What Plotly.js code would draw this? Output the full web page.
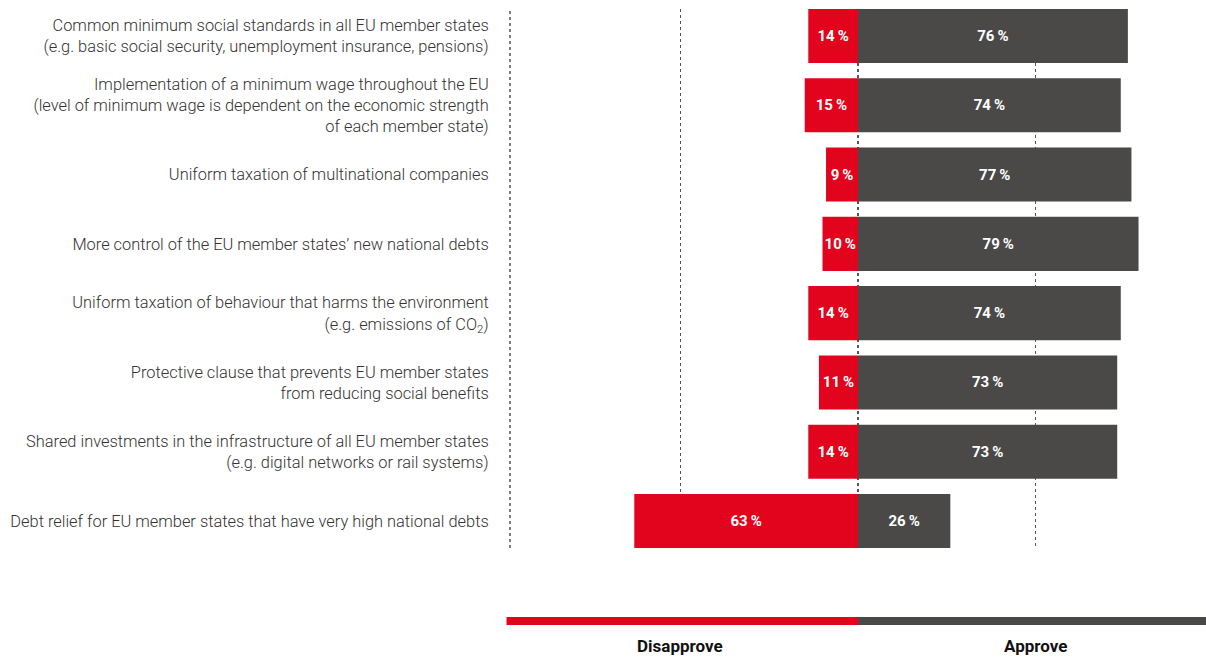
<!DOCTYPE html>
<html>
<head>
<meta charset="utf-8">
<script src="https://cdn.plot.ly/plotly-3.0.1.min.js"></script>
<style>html,body{margin:0;padding:0;background:#fff;}#chart{width:1206px;height:657px;}</style>
</head>
<body>
<div id="chart"></div>
<script>
const categories = [
  "Common minimum social standards in all EU member states<br>(e.g. basic social security, unemployment insurance, pensions)",
  "Implementation of a minimum wage throughout the EU<br>(level of minimum wage is dependent on the economic strength<br>of each member state)",
  "Uniform taxation of multinational companies",
  "More control of the EU member states’ new national debts",
  "Uniform taxation of behaviour that harms the environment<br>(e.g. emissions of CO<sub>2</sub>)",
  "Protective clause that prevents EU member states<br>from reducing social benefits",
  "Shared investments in the infrastructure of all EU member states<br>(e.g. digital networks or rail systems)",
  "Debt relief for EU member states that have very high national debts"
];
const disapprove = [14, 15, 9, 10, 14, 11, 14, 63];
const approve = [76, 74, 77, 79, 74, 73, 73, 26];
const seriesNames = ["Disapprove", "Approve"];
const gridVals = [-50, 0, 50];

const RED = "#e2041c";
const GRAY = "#4a4948";
const labelFont = "Roboto, 'Liberation Sans', sans-serif";

const traces = [
  {
    type: "bar", orientation: "h", name: seriesNames[0],
    y: categories, x: disapprove.map(v => -v),
    text: disapprove.map(v => v + "\u2009%"),
    textposition: "inside", insidetextanchor: "middle", textangle: 0, constraintext: "none",
    textfont: {family: labelFont, size: 15, color: "#ffffff", weight: 700},
    marker: {color: RED, line: {width: 0}},
    hoverinfo: "skip"
  },
  {
    type: "bar", orientation: "h", name: seriesNames[1],
    y: categories, x: approve,
    text: approve.map(v => v + "\u2009%"),
    textposition: "inside", insidetextanchor: "middle", textangle: 0, constraintext: "none",
    textfont: {family: labelFont, size: 15, color: "#ffffff", weight: 700},
    marker: {color: GRAY, line: {width: 0}},
    hoverinfo: "skip"
  }
];

const layout = {
  width: 1206, height: 657,
  margin: {l: 510, r: 0, t: 9, b: 109},
  paper_bgcolor: "#ffffff", plot_bgcolor: "#ffffff",
  barmode: "relative",
  bargap: 0.22,
  showlegend: false,
  xaxis: {
    range: [-98, 98], fixedrange: true,
    tickvals: gridVals, showticklabels: false, ticks: "",
    showgrid: true, gridcolor: "#555555", gridwidth: 1.5, griddash: "dot",
    zeroline: false, showline: false
  },
  yaxis: {
    type: "category", autorange: false, range: [7.39, -0.39],
    ticks: "outside", ticklen: 17, tickcolor: "rgba(0,0,0,0)",
    showgrid: false, zeroline: false, showline: false,
    tickfont: {family: labelFont, size: 16.4, color: "#333333", weight: 300}
  },
  shapes: [
    {type: "line", xref: "paper", yref: "paper", x0: 0, x1: 0, y0: 0, y1: 1,
     line: {color: "#555555", width: 1.5, dash: "dot"}, layer: "below"},
    {type: "rect", xref: "paper", yref: "paper", x0: -0.005, x1: 0.5, y0: -0.128, y1: -0.143,
     fillcolor: RED, line: {width: 0}},
    {type: "rect", xref: "paper", yref: "paper", x0: 0.5, x1: 1, y0: -0.128, y1: -0.143,
     fillcolor: GRAY, line: {width: 0}}
  ],
  annotations: [
    {xref: "x", yref: "paper", x: gridVals[0], y: -0.182, text: "<b>" + seriesNames[0] + "</b>",
     showarrow: false, font: {family: labelFont, size: 17, color: "#111111"}, xanchor: "center", yanchor: "middle"},
    {xref: "x", yref: "paper", x: gridVals[2], y: -0.182, text: "<b>" + seriesNames[1] + "</b>",
     showarrow: false, font: {family: labelFont, size: 17, color: "#111111"}, xanchor: "center", yanchor: "middle"}
  ]
};

Plotly.newPlot("chart", traces, layout, {displayModeBar: false, staticPlot: true});
</script>
</body>
</html>
